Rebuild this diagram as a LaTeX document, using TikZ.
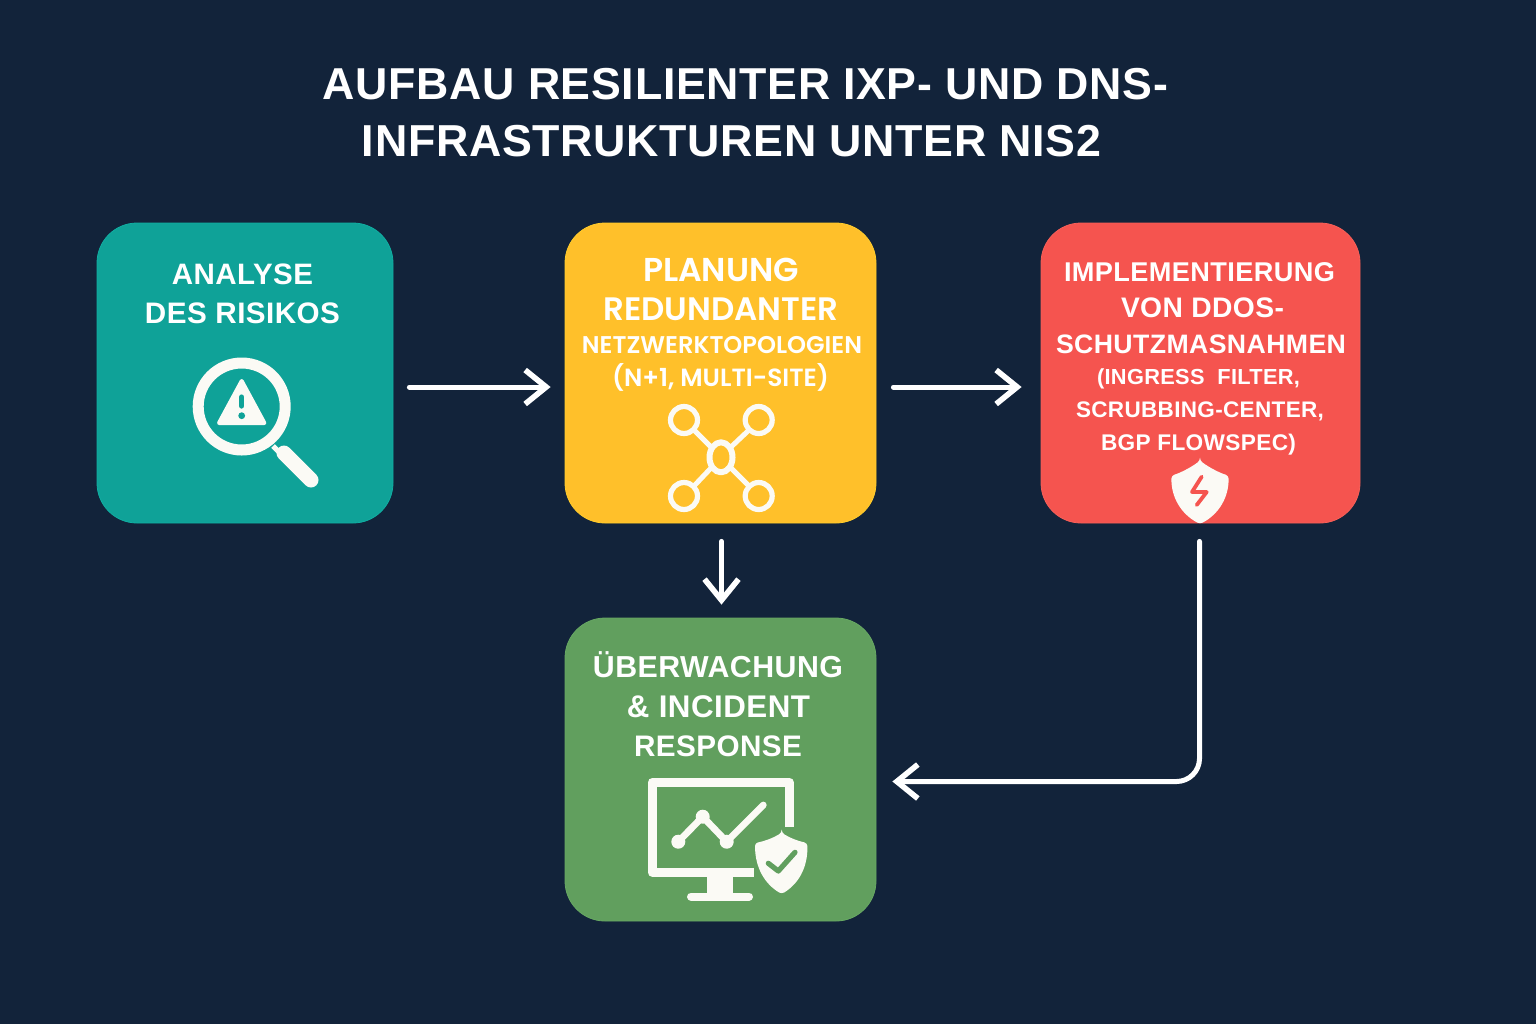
\documentclass[tikz,border=0pt]{standalone}
\usepackage{fontspec}
\usepackage{graphicx}
\usetikzlibrary{arrows.meta,calc}
\setmainfont[LetterSpace=1.5]{Liberation Sans}
\newfontfamily\popfont{Poppins SemiBold}
\definecolor{bgc}{HTML}{12233A}
\definecolor{tealc}{HTML}{0FA298}
\definecolor{tealb}{HTML}{10AEA2}
\definecolor{yelc}{HTML}{FFC02A}
\definecolor{yelb}{HTML}{FFCC2A}
\definecolor{redc}{HTML}{F5544F}
\definecolor{redb}{HTML}{F75F58}
\definecolor{grnc}{HTML}{619F5E}
\definecolor{grnb}{HTML}{67A863}
\definecolor{iconc}{HTML}{FBFAF5}
\newcommand{\fitw}[2]{\pgfmathsetlengthmacro{\fw}{#1*0.5pt}\resizebox{\fw}{!}{#2}}
\tikzset{
  x=0.5pt,y=-0.5pt,
  box/.style={rounded corners=20pt,minimum height=#1*0.5pt,inner sep=0pt,line width=0.4pt},
  lbl/.style={anchor=base,inner sep=0pt,text=white,font=\bfseries},
  plbl/.style={anchor=base,inner sep=0pt,text=white,font=\popfont},
  arr/.style={draw=white,line width=2.5pt,line cap=round,line join=round,-{Straight Barb[length=10.5pt,width=17pt,line width=2.8pt]}},
  ic/.style={draw=iconc,line cap=round,line join=round},
}
\begin{document}
\begin{tikzpicture}
\fill[bgc] (0,0) rectangle (1536,1024);
\useasboundingbox (0,0) rectangle (1536,1024);
% title
\node[lbl] (t1) at (745.5,99) {\fitw{845}{AUFBAU RESILIENTER IXP- UND DNS-}};
\node[lbl] (t2) at (731.5,156.5) {\fitw{739}{INFRASTRUKTUREN UNTER NIS2}};
% boxes
\node[box=300,minimum width=148pt,fill=tealc,draw=tealb] (A) at (245,373) {};
\node[box=300,minimum width=155.5pt,fill=yelc,draw=yelb] (B) at (720.5,373) {};
\node[box=300,minimum width=159.5pt,fill=redc,draw=redb] (C) at (1200.5,373) {};
\node[box=303,minimum width=155.5pt,fill=grnc,draw=grnb] (D) at (720.5,769.5) {};
% connectors
\draw[arr] ([shift={(16,14)}]A.east) -- ([shift={(-14,14)}]B.west);
\draw[arr] ([shift={(17,14)}]B.east) -- ([shift={(-19,14)}]C.west);
\draw[arr] ([xshift=0.5pt,yshift=-9pt]B.south) -- ([xshift=0.5pt,yshift=6.5pt]D.north);
\draw[arr,rounded corners=11.5pt] ([xshift=-0.5pt,yshift=-9pt]C.south) |- ([xshift=8pt,yshift=-6pt]D.east);
% box A text
\node[lbl] (a1) at (242.5,284) {\fitw{141}{ANALYSE}};
\node[lbl] (a2) at (242.5,323) {\fitw{195}{DES RISIKOS}};
% box B text
\node[plbl] (b1) at (721,281) {\fitw{156}{PLANUNG}};
\node[plbl] (b2) at (721,320) {\fitw{235}{REDUNDANTER}};
\node[plbl] (b3) at (722,353.5) {\fitw{280}{NETZWERKTOPOLOGIEN}};
\node[plbl] (b4) at (720.5,386) {\fitw{217}{(N+1, MULTI-SITE)}};
% box C text
\node[lbl] (c1) at (1199.5,281.5) {\fitw{271}{IMPLEMENTIERUNG}};
\node[lbl] (c2) at (1202.5,317.5) {\fitw{163}{VON DDOS-}};
\node[lbl] (c3) at (1201,353) {\fitw{290}{SCHUTZMASNAHMEN}};
\node[lbl] (c4) at (1198.5,384) {\fitw{203}{(INGRESS\ \ FILTER,}};
\node[lbl] (c5) at (1200,417) {\fitw{248}{SCRUBBING-CENTER,}};
\node[lbl] (c6) at (1198.5,450) {\fitw{195}{BGP FLOWSPEC)}};
% box D text
\node[lbl] (d1) at (718,677.5) {\fitw{250}{ÜBERWACHUNG}};
\node[lbl] (d2) at (718.5,717) {\fitw{183}{\& INCIDENT}};
\node[lbl] (d3) at (718,756.5) {\fitw{168}{RESPONSE}};
% magnifier icon
\draw[ic,line width=5.5pt] (241.7,406.5) circle (43.5);
\fill[iconc,draw=iconc,line width=2pt,line join=round] (241.7,381) -- (219,423) -- (264.4,423) -- cycle;
\draw[tealc,line width=2.6pt,line cap=round] (241.7,397) -- (241.7,406);
\fill[tealc] (241.7,415.7) circle (3.4);
\draw[ic,line width=2.6pt,line cap=butt] (273,446) -- (284,457);
\draw[ic,line width=7.5pt] (284,453) -- (311,480);
% network icon
\foreach \px/\py in {684/420,758.7/420,684/496,758.7/496}{
  \draw[ic,line width=2.6pt] (\px,\py) circle (13.5);
}
\draw[ic,line width=3pt] (721,457.3) ellipse [x radius=11.5,y radius=15];
\draw[ic,line width=2.5pt,line cap=butt] (694,430) -- (711,447) (749,430) -- (731,447) (694,486) -- (711,468) (749,486) -- (731,468);
% shield icon red
\fill[iconc,rounded corners=1.5pt] (1200,460.7) .. controls (1210,468) and (1220,473) .. (1228.5,475.5)
  .. controls (1229,497) and (1219,514) .. (1200,524) .. controls (1181,514) and (1171,497) .. (1171.5,475.5)
  .. controls (1180,473) and (1190,468) .. cycle;
\draw[redc,line width=1.9pt,line cap=round,line join=round] (1201.7,476.7) -- (1192,492) -- (1206.7,492) -- (1196.7,505);
% monitor icon
\draw[ic,line width=4.5pt,line cap=butt,line join=round] (789.3,827) -- (789.3,782.3) -- (652.3,782.3) -- (652.3,872.3) -- (754,872.3);
\fill[iconc] (706.7,875) rectangle (733.3,895);
\draw[ic,line width=4pt] (691,896.5) -- (749,896.5);
\draw[ic,line width=3.4pt] (678.3,841.7) -- (702.7,816.7) -- (726.7,841.7) -- (763.3,805);
\fill[iconc] (678.3,841.7) circle (7) (702.7,816.7) circle (7) (726.7,841.7) circle (7);
\fill[iconc,rounded corners=1.5pt] (781.7,832.7) .. controls (790,838) and (798,841) .. (807.3,843)
  .. controls (808,868) and (798,884) .. (781.7,894) .. controls (765,884) and (755,868) .. (755,843)
  .. controls (765,841) and (773,838) .. cycle;
\draw[grnc,line width=2.6pt,line cap=round,line join=round] (768.3,863.3) -- (778.3,871) -- (795,852.3);
\end{tikzpicture}
\end{document}
